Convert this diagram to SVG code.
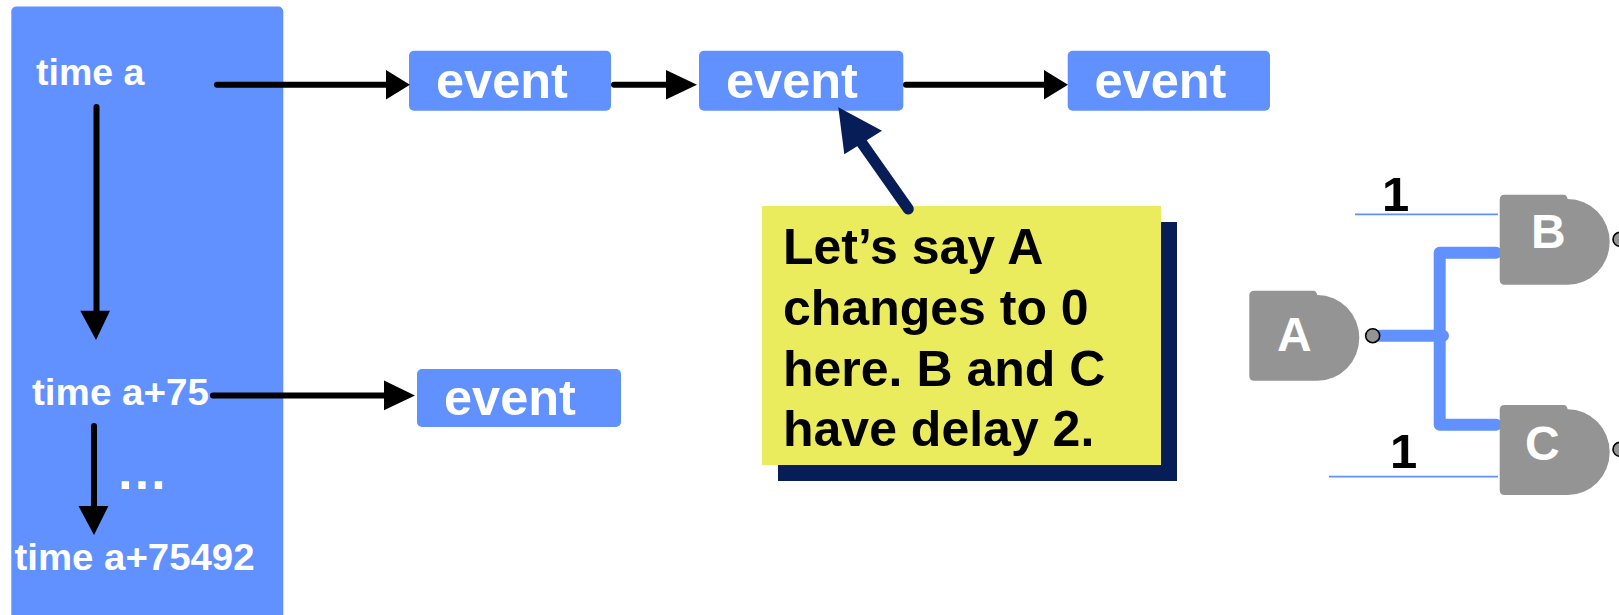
<svg xmlns="http://www.w3.org/2000/svg" xmlns:xlink="http://www.w3.org/1999/xlink" width="1619" height="615" viewBox="0 0 1619 615">
<style>
text{font-family:"Liberation Sans",Arial,sans-serif;font-weight:700}
.w{fill:#fff}
.time{font-size:37.500px}
.ev{font-size:50.500px}
.box{fill:#6190ff}
.gate{fill:#949494}
.bub{fill:#949494;stroke:#000;stroke-width:1.6}
.gl{font-size:48px;fill:#fff}
.note{font-size:50px;fill:#000}
.one{font-size:49px;fill:#000}
.a{stroke:#000;stroke-width:6;fill:none;stroke-linecap:round}
.h{fill:#000}
</style>
<defs>
<path id="gateShape" d="M5,0H64Q67,0 68,4.300A42,42.850 0 0 1 68,90H5Q0,90 0,85V5Q0,0 5,0Z"/>
</defs>
<g id="panel"><rect class="box" x="11.300" y="6.500" width="272" height="630" rx="5"/>
<text class="w time" x="36" y="85">time a</text>
<text class="w time" x="32" y="405" textLength="177" lengthAdjust="spacingAndGlyphs">time a+75</text>
<text class="w time" x="14.500" y="570" textLength="240" lengthAdjust="spacingAndGlyphs">time a+75492</text>
<text class="w ev" x="116" y="489" style="font-size:52px">…</text></g>
<g id="event1"><rect class="box" x="409" y="50.700" width="202" height="60" rx="5"/><text class="w ev" x="436" y="97.500">event</text></g>
<g id="event2"><rect class="box" x="699" y="50.700" width="204.300" height="60" rx="5"/><text class="w ev" x="726" y="97.500">event</text></g>
<g id="event3"><rect class="box" x="1067.700" y="50.700" width="202.300" height="60" rx="5"/><text class="w ev" x="1094.500" y="97.500">event</text></g>
<g id="event4"><rect class="box" x="417" y="369" width="204" height="58" rx="5"/><text class="w ev" x="444" y="415">event</text></g>
<g id="note"><rect x="778" y="222" width="399" height="259" fill="#071d58"/><rect x="762" y="206" width="399" height="259" fill="#ebeb5e"/>
<text class="note" x="783" y="264">Let’s say A</text>
<text class="note" x="783" y="325">changes to 0</text>
<text class="note" x="783" y="385.500">here. B and C</text>
<text class="note" x="783" y="446">have delay 2.</text></g>
<g id="connectors">
<path class="a" d="M217,84.700H388"/><path class="h" d="M386,70V99.500L410,84.700Z"/>
<path class="a" d="M614,84.700H670"/><path class="h" d="M666,70V99.500L697,84.700Z"/>
<path class="a" d="M906,84.700H1048"/><path class="h" d="M1044,70V99.500L1068,84.700Z"/>
<path class="a" d="M96.500,107V314"/><path class="h" d="M80.300,310.700H110L96,340Z"/>
<path class="a" d="M213,395.400H388"/><path class="h" d="M384,380.500V410.300L415,395.400Z"/>
<path class="a" d="M94,426V510"/><path class="h" d="M78.500,506H108.400L94,535Z"/>
<path d="M908.300,209L859,139" stroke="#071d58" stroke-width="11" stroke-linecap="round" fill="none"/><path d="M838.300,107.300L882,130.700L844.300,154.300Z" fill="#071d58"/>
<path d="M1380,335.700H1443M1496,252.700H1439.700V424.700H1496" stroke="#6190ff" stroke-width="12" stroke-linecap="round" stroke-linejoin="round" fill="none"/>
<path d="M1355,214.300H1498M1329,476.700H1498" stroke="#6190ff" stroke-width="1.800" fill="none"/>
</g>
<g id="gateA"><use xlink:href="#gateShape" class="gate" x="1249.300" y="290.700"/><circle class="bub" cx="1372.700" cy="335.700" r="7"/><text class="gl" x="1277" y="351">A</text></g>
<g id="gateB"><use xlink:href="#gateShape" class="gate" x="1499.700" y="194.700"/><circle class="bub" cx="1620" cy="239.300" r="7"/><text class="gl" x="1531" y="248.300">B</text></g>
<g id="gateC"><use xlink:href="#gateShape" class="gate" x="1499.700" y="405"/><circle class="bub" cx="1620" cy="449.300" r="7"/><text class="gl" x="1525" y="460">C</text></g>
<g id="labels"><text class="one" x="1382" y="210.700">1</text><text class="one" x="1390" y="468.300">1</text></g>
</svg>
